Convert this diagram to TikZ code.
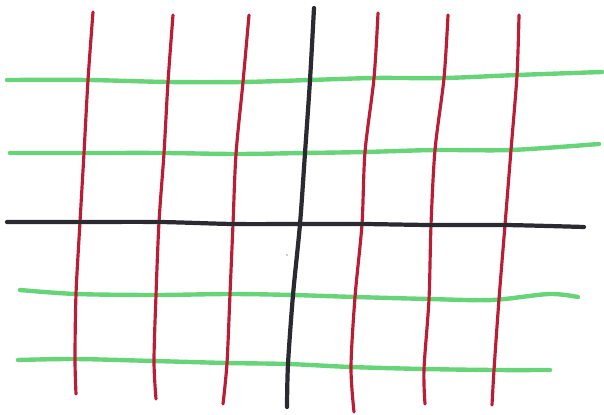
\documentclass[tikz,border=0pt]{standalone}
\usepackage{tikz}
\usetikzlibrary{calc}
\definecolor{penred}{RGB}{186, 30, 54}
\definecolor{pengreen}{RGB}{104, 212, 122}
\definecolor{penblack}{RGB}{42, 42, 48}

\begin{document}
\begin{tikzpicture}[x=0.02cm, y=-0.02cm, line cap=round, line join=round,
    redline/.style={color=penred, line width=1.8pt},
    greenline/.style={color=pengreen, line width=2.5pt},
    axisline/.style={color=penblack, line width=2.4pt}]
    \useasboundingbox (0,0) rectangle (604,415);

    % green horizontals
    \draw[greenline] plot[smooth] coordinates {(7,80) (88,80) (168,82) (243,82) (310,80) (374,78) (444,78) (517,75) (602,72)};
    \draw[greenline] plot[smooth] coordinates {(10,153) (84,153) (164,153) (236,154) (305,153) (365,152) (435,150) (511,150) (599,144)};
    \draw[greenline] plot[smooth] coordinates {(20,290) (76,294) (156,295) (230,294) (293,295) (355,297) (429,299) (492,300) (549,294) (578,297)};
    \draw[greenline] plot[smooth] coordinates {(18,360) (75,359) (154,361) (227,363) (288,364) (351,367) (424,369) (494,370) (550,370)};

    % red verticals
    \draw[redline] plot[smooth] coordinates {(93,12) (88,80) (84,153) (80,222) (76,294) (75,359) (76,394)};
    \draw[redline] plot[smooth] coordinates {(173,15) (168,82) (164,153) (159,222) (156,295) (154,361) (156,399)};
    \draw[redline] plot[smooth] coordinates {(249,15) (243,82) (236,154) (233,224) (230,294) (227,363) (223,404)};
    \draw[redline] plot[smooth] coordinates {(378,13) (374,78) (365,152) (362,224) (355,297) (351,367) (354,412)};
    \draw[redline] plot[smooth] coordinates {(448,15) (444,78) (435,150) (431,225) (429,299) (424,369) (425,404)};
    \draw[redline] plot[smooth] coordinates {(519,15) (517,75) (511,150) (505,225) (499,299) (494,370) (492,405)};

    % black axes
    \draw[axisline] plot[smooth] coordinates {(7,222) (80,222) (159,222) (233,224) (300,224) (362,224) (431,225) (505,225) (584,227)};
    \draw[axisline] plot[smooth] coordinates {(314,8) (310,80) (305,153) (300,224) (293,295) (288,364) (287,407)};
    \fill[penblack] (287,255) circle (0.6);
\end{tikzpicture}
\end{document}
